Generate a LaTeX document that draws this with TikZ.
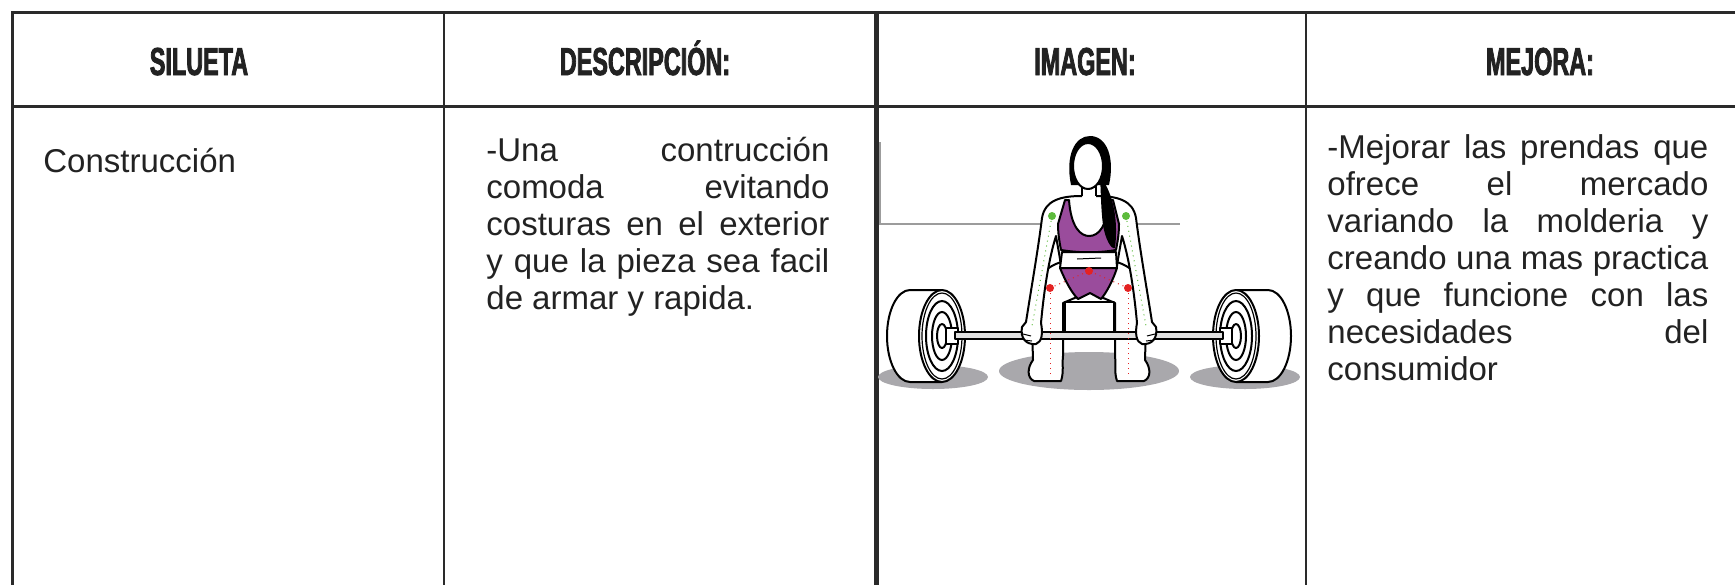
\documentclass[tikz,border=0pt]{standalone}
\usepackage{fontspec}
\setmainfont{Liberation Sans}
\newfontfamily\headfont[FakeStretch=0.6,FakeBold=2]{Liberation Sans Bold}
\usepackage{tikz}
\usetikzlibrary{positioning}
\definecolor{rule}{HTML}{2A2A2A}
\definecolor{ink}{HTML}{222222}
\definecolor{bra}{HTML}{9A4C9C}
\definecolor{dotgreen}{HTML}{5DBB3C}
\definecolor{dotred}{HTML}{E42222}
\definecolor{floor}{HTML}{A9A8AC}
\definecolor{wall}{HTML}{9C9C9C}
\hyphenpenalty=10000
\tolerance=10000

\begin{document}
\begin{tikzpicture}[x=0.5pt,y=-0.5pt,
        header/.style={font=\headfont\fontsize{19.5}{22}\selectfont, text=ink, inner sep=0pt, anchor=base},
        cell/.style={font=\fontsize{16.5}{18.5}\selectfont, text=ink, inner sep=0pt, anchor=base west, align=justify},
        figline/.style={draw=black, line width=1pt, fill=white, line join=round}]
        \useasboundingbox (0,0) rectangle (1735,585);

        \draw[rule, line width=1.5pt] (11,12) -- (1735,12);
        \draw[rule, line width=1.5pt] (12,106) -- (1735,106);
        \draw[rule, line width=1.5pt] (12,11) -- (12,585);
        \draw[rule, line width=1pt] (444,12) -- (444,585);
        \draw[rule, line width=2.5pt] (876,12) -- (876,585);
        \draw[rule, line width=1pt] (1306,12) -- (1306,585);

        \node[header] (hsil) at (199,75) {SILUETA};
        \node[header] (hdesc) at (645,75) {DESCRIPCIÓN:};
        \node[header] (himg) at (1085,75) {IMAGEN:};
        \node[header] (hmej) at (1540,75) {MEJORA:};

        \node[cell] (csil) at (43,172) {Construcción};
        \node[cell, text width=171.5pt] (cdesc) at (486,161)
        {-Una contrucción\linebreak comoda evitando\linebreak costuras en el exterior\linebreak
         y que la pieza sea facil\linebreak de armar y rapida.};
        \node[cell, text width=190.5pt] (cmej) at (1327,158)
        {-Mejorar las prendas que\linebreak ofrece el mercado\linebreak variando la molderia y\linebreak
         creando una mas practica\linebreak y que funcione con las\linebreak necesidades del\linebreak consumidor};

        % imagen
        \draw[wall, line width=0.8pt] (880,142) -- (880,224) -- (1180,224);
        \begin{scope}[shift={(1089,0)}]
            \fill[floor] (0,371) ellipse [x radius=90, y radius=19];
            \foreach \s in {-1,1} {
                \begin{scope}[xscale=\s]
                    \fill[floor] (156,377) ellipse [x radius=55, y radius=12];
                    \draw[figline] (147,290) -- (179,290) arc[start angle=-90, end angle=90, x radius=23, y radius=46] -- (147,382) -- cycle;
                    \draw[figline] (147,336) ellipse [x radius=23, y radius=46];
                    \draw[black, line width=0.6pt] (147,336) ellipse [x radius=20, y radius=43];
                    \draw[black, line width=1pt] (147,336) ellipse [x radius=16, y radius=35];
                    \draw[black, line width=1pt] (147,336) ellipse [x radius=10, y radius=24];
                    \draw[figline] (147,336) ellipse [x radius=5, y radius=12];
                    \draw[figline] (131,328) rectangle (143,344);
                    \draw[figline] (-28,262) .. controls (-40,266) and (-55,276) .. (-58,292) -- (-56,360)
                        .. controls (-62,368) and (-62,378) .. (-55,381) -- (-28,381)
                        .. controls (-25,372) and (-27,364) .. (-26,356) -- (-26,303) -- (-12,297) -- cycle;
                \end{scope}
            }
            \draw[figline] (-24,302) rectangle (25,336);
            \draw[figline, fill=black!12] (-134,332) rectangle (134,339);
            \fill[black] (-18,185) .. controls (-24,155) and (-14,136) .. (1,136)
                .. controls (18,136) and (26,158) .. (20,185) -- cycle;
            \draw[figline] (-7,184) rectangle (7,200);
            \foreach \s in {-1,1} {
                \begin{scope}[xscale=\s]
                    \fill[white] (-7,196) .. controls (-28,196) and (-44,200) .. (-47,218)
                        .. controls (-51,250) and (-58,290) .. (-63,322) -- (-67,327)
                        .. controls (-69,338) and (-63,345) .. (-53,344)
                        .. controls (-47,342) and (-46,333) .. (-48,323)
                        .. controls (-45,290) and (-40,258) .. (-33,236)
                        .. controls (-31,248) and (-29,258) .. (-28,266) -- (0,266) -- (0,196) -- cycle;
                    \draw[figline, fill=none] (-7,196) .. controls (-28,196) and (-44,200) .. (-47,218)
                        .. controls (-51,250) and (-58,290) .. (-63,322) -- (-67,327)
                        .. controls (-69,338) and (-63,345) .. (-53,344)
                        .. controls (-47,342) and (-46,333) .. (-48,323)
                        .. controls (-45,290) and (-40,258) .. (-33,236)
                        .. controls (-31,248) and (-29,258) .. (-28,266);
                    \draw[black, line width=0.5pt] (-66,334) -- (-58,336) (-65,340) -- (-57,341);
                \end{scope}
            }
            \draw[figline] (-1,166) ellipse [x radius=15, y radius=23];
            \draw[figline, fill=bra] (-31,224) -- (-24,200) -- (-20,200) .. controls (-18,228) and (-8,236) .. (0,236)
                .. controls (10,236) and (18,226) .. (20,200) -- (24,200) -- (30,224)
                .. controls (30,236) and (28,244) .. (27,250) .. controls (10,253) and (-10,253) .. (-28,250)
                .. controls (-30,240) and (-31,232) .. (-31,224) -- cycle;
            \draw[figline] (-27,252) -- (27,252) -- (28,268) -- (-29,268) -- cycle;
            \draw[black, line width=0.5pt] (-12,259) -- (12,258);
            \draw[figline, fill=bra] (-29,268) -- (28,268) .. controls (24,280) and (18,292) .. (12,299) -- (1,293) -- (-11,299)
                .. controls (-18,292) and (-24,280) .. (-29,268) -- cycle;
            \fill[black] (11,176) .. controls (22,190) and (30,215) .. (26,248)
                .. controls (22,250) and (16,238) .. (14,225) .. controls (12,210) and (12,195) .. (11,176) -- cycle;
            \foreach \s in {-1,1} {
                \begin{scope}[xscale=\s]
                    \draw[dotgreen, line width=0.5pt, dotted] (-37,216) -- (-57,326);
                    \draw[dotred, line width=0.5pt, dotted] (-39,288) -- (-39,377);
                    \draw[dotred, line width=0.5pt, dotted] (-39,288) -- (0,271);
                    \fill[dotgreen] (-37,216) circle (4);
                    \fill[dotred] (-39,288) circle (4);
                \end{scope}
            }
            \fill[dotred] (0,271) circle (4);
        \end{scope}
    \end{tikzpicture}
\end{document}
